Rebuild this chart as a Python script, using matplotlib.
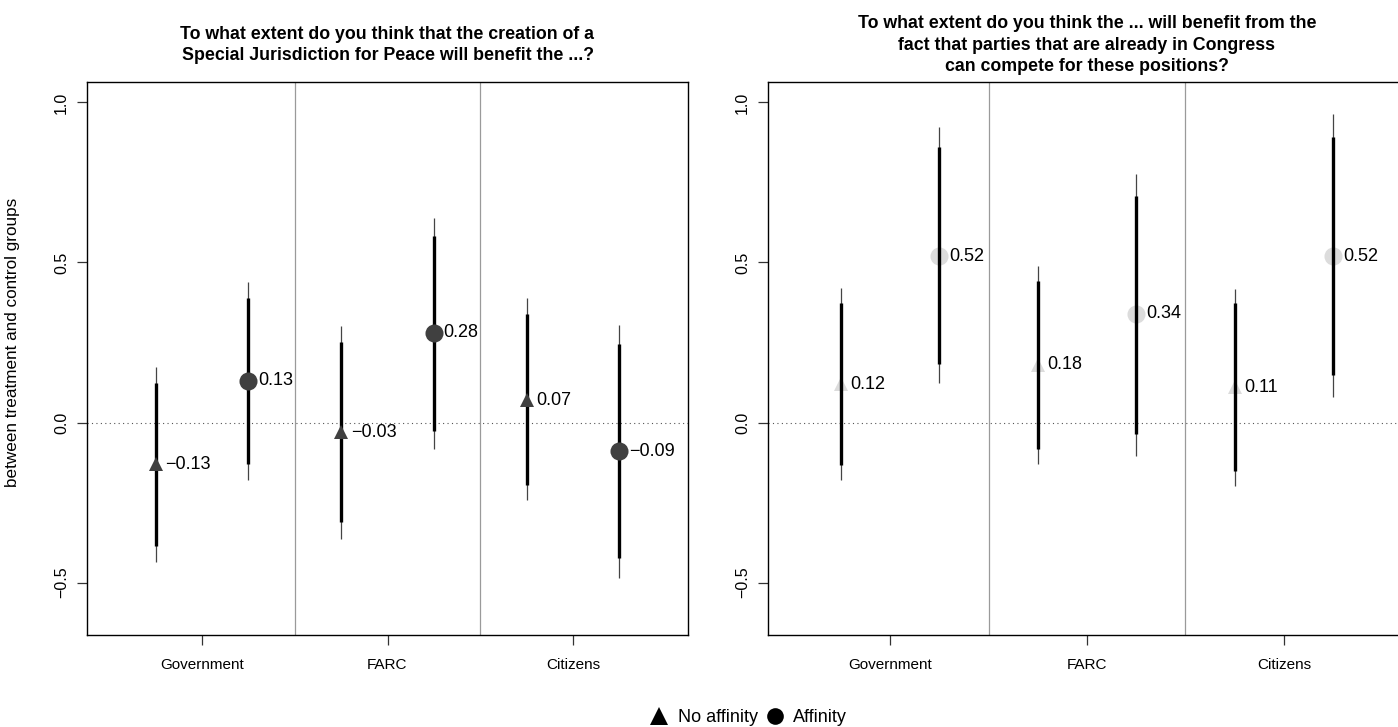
import matplotlib
matplotlib.use("Agg")
import matplotlib.pyplot as plt
from matplotlib.lines import Line2D

plt.rcParams['font.family'] = ['Liberation Sans', 'DejaVu Sans']

# ---------------- data ----------------
categories = ["Government", "FARC", "Citizens"]

title_left = "To what extent do you think that the creation of a\nSpecial Jurisdiction for Peace will benefit the ...?"
title_right = ("To what extent do you think the ... will benefit from the\n"
               "fact that parties that are already in Congress\n"
               "can compete for these positions?")
ylabel_text = "between treatment and control groups"
legend_labels = ["No affinity", "Affinity"]

# Left panel (Special Jurisdiction for Peace)
left_noaff_est = [-0.13, -0.03, 0.07]
left_noaff_lo90 = [-0.385, -0.311, -0.194]
left_noaff_hi90 = [0.125, 0.251, 0.340]
left_noaff_lo95 = [-0.435, -0.363, -0.243]
left_noaff_hi95 = [0.175, 0.303, 0.390]

left_aff_est = [0.13, 0.28, -0.09]
left_aff_lo90 = [-0.130, -0.028, -0.424]
left_aff_hi90 = [0.390, 0.582, 0.244]
left_aff_lo95 = [-0.180, -0.084, -0.487]
left_aff_hi95 = [0.440, 0.640, 0.305]

# Right panel (parties already in Congress)
right_noaff_est = [0.12, 0.18, 0.11]
right_noaff_lo90 = [-0.134, -0.082, -0.150]
right_noaff_hi90 = [0.374, 0.442, 0.372]
right_noaff_lo95 = [-0.181, -0.129, -0.199]
right_noaff_hi95 = [0.421, 0.490, 0.418]

right_aff_est = [0.52, 0.34, 0.52]
right_aff_lo90 = [0.184, -0.035, 0.150]
right_aff_hi90 = [0.860, 0.707, 0.893]
right_aff_lo95 = [0.122, -0.105, 0.080]
right_aff_hi95 = [0.924, 0.778, 0.963]

y_ticks = [-0.5, 0.0, 0.5, 1.0]
y_tick_labels = ["\u22120.5", "0.0", "0.5", "1.0"]

# ---------------- figure ----------------
W, H = 1398, 727
fig = plt.figure(figsize=(W / 100, H / 100), dpi=100)

ax_bottom = 1 - 635 / H
ax_height = 553 / H
axL = fig.add_axes([87 / W, ax_bottom, 601 / W, ax_height])
axR = fig.add_axes([768 / W, ax_bottom, 638 / W, ax_height])


def fmt(v):
    return f"{v:.2f}".replace("-", "\u2212")


def draw_panel(ax, series, marker_color, markers_on_top, title):
    n = len(categories)
    pos = list(range(1, n + 1))
    for offset, marker, msize, est, lo90, hi90, lo95, hi95 in series:
        xs = [p + offset for p in pos]
        ax.vlines(xs, lo95, hi95, colors="#444444", linewidth=0.9, zorder=2)
        ax.vlines(xs, lo90, hi90, colors="black", linewidth=2.4, zorder=3)
        ax.plot(xs, est, linestyle="none", marker=marker, markersize=msize,
                color=marker_color, markeredgewidth=0,
                zorder=4 if markers_on_top else 1)
        for x, v in zip(xs, est):
            ax.annotate(fmt(v), xy=(x, v), xytext=(7, 0), textcoords="offset points",
                        ha="left", va="center", fontsize=13, zorder=5)
    for b in [1.5, 2.5]:
        ax.axvline(b, color="#9a9a9a", linewidth=0.9, zorder=0)
    ax.axhline(0, color="#555555", linewidth=0.8, linestyle=(0, (1, 3)), zorder=0)
    ax.set_xlim(0.38, 3.62)
    ax.set_ylim(-0.664, 1.064)
    ax.set_xticks(pos)
    ax.set_xticklabels(categories, fontsize=11)
    ax.set_yticks(y_ticks)
    ax.set_yticklabels(y_tick_labels, fontsize=11.5, rotation=90, va="center")
    ax.tick_params(axis="both", direction="out", length=7, width=0.9, color="#333333")
    ax.tick_params(axis="x", pad=9.5)
    ax.tick_params(axis="y", pad=6)
    for s in ax.spines.values():
        s.set_linewidth(1.0)
        s.set_color("black")
    ax.text(0.5, 1 + 37 / 553, title, transform=ax.transAxes, ha="center",
            va="center", multialignment="center", fontsize=12.8,
            fontweight="bold", linespacing=1.33)


draw_panel(axL, [
    (-0.25, "^", 10, left_noaff_est, left_noaff_lo90, left_noaff_hi90, left_noaff_lo95, left_noaff_hi95),
    (0.25, "o", 13, left_aff_est, left_aff_lo90, left_aff_hi90, left_aff_lo95, left_aff_hi95),
], "#404040", True, title_left)

draw_panel(axR, [
    (-0.25, "^", 10, right_noaff_est, right_noaff_lo90, right_noaff_hi90, right_noaff_lo95, right_noaff_hi95),
    (0.25, "o", 13, right_aff_est, right_aff_lo90, right_aff_hi90, right_aff_lo95, right_aff_hi95),
], "#dcdcdc", False, title_right)

fig.text(13 / W, 1 - 342 / H, ylabel_text, rotation=90,
         ha="center", va="center", fontsize=12.3)

handles = [
    Line2D([], [], linestyle="none", marker="^", markersize=13, color="black", markeredgewidth=0),
    Line2D([], [], linestyle="none", marker="o", markersize=12, color="black", markeredgewidth=0),
]
fig.legend(handles, legend_labels, loc="center", bbox_to_anchor=(748.5 / W, 1 - 718 / H),
           ncol=2, frameon=False, fontsize=13, handlelength=1.0, handletextpad=0.5,
           columnspacing=0.45, borderpad=0, borderaxespad=0)

fig.savefig("out.png", dpi=100)
